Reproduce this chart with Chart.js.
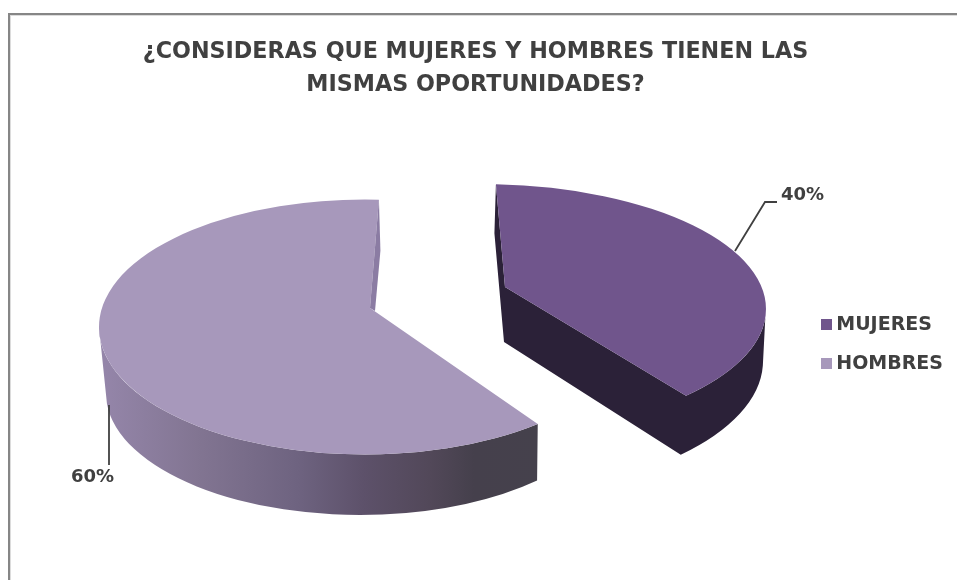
<!DOCTYPE html>
<html><head><meta charset="utf-8">
<style>html,body{margin:0;padding:0;background:#fff;overflow:hidden}canvas{display:block}</style>
<script src="https://cdn.jsdelivr.net/npm/chart.js@4"></script>
</head><body><canvas id="c" width="957" height="580"></canvas>
<script>
const categories = ['MUJERES', 'HOMBRES'];
const percentValues = [40, 60];
const titleLines = ['¿CONSIDERAS QUE MUJERES Y HOMBRES TIENEN LAS', 'MISMAS OPORTUNIDADES?'];
const sliceColors = ['#70558c', '#a798bb'];
const FONT = '"DejaVu Sans"';
const TEXT = '#404040';
const rad = d => d * Math.PI / 180;

// Perspective view of each exploded slice: top and bottom rims as ellipses.
// Library arc angles are mapped on to rim angles by an offset and a foreshortening factor.
const views = [
  { top: [481, 309, 285, 125], bottom: [470, 361, 293, 135], apex: [505, 287], startRim: -87, rimScale: 131 / 144,
    label: [781, 195], leader: [[735, 251], [765, 202], [777, 202]] },
  { top: [365, 327, 266, 127.5], bottom: [360, 393, 254, 122], apex: [370, 308], startRim: 49.5, rimScale: 223.5 / 216,
    label: [71, 477], leader: [[109, 405], [109, 465]] }
];

function rim(e, deg) {
  return [e[0] + e[2] * Math.cos(rad(deg)), e[1] + e[3] * Math.sin(rad(deg))];
}
function sweep(ctx, e, from, to, ccw) {
  ctx.ellipse(e[0], e[1], e[2], e[3], 0, rad(from), rad(to), ccw);
}
function rimAngles(el, v) {
  const span = (el.endAngle - el.startAngle) * 180 / Math.PI;
  return [v.startRim, v.startRim + span * v.rimScale];
}

const pie3d = {
  id: 'pie3d',
  beforeDatasetDraw(chart) {
    const ctx = chart.ctx;
    const els = chart.getDatasetMeta(0).data;

    // HOMBRES
    {
      const v = views[1], [a, b] = rimAngles(els[1], v);
      const g = ctx.createLinearGradient(100, 0, 540, 0);
      [[0, '#9586aa'], [.22, '#827592'], [.45, '#6e6380'], [.6, '#5d516a'], [.75, '#524859'], [.85, '#45404c'], [1, '#45414c']]
        .forEach(s => g.addColorStop(s[0], s[1]));
      ctx.fillStyle = g;
      ctx.beginPath();
      sweep(ctx, v.top, a, 180, false);
      sweep(ctx, v.bottom, 175, a - 3.7, true);
      ctx.closePath();
      ctx.fill();

      ctx.fillStyle = sliceColors[1];
      ctx.beginPath();
      ctx.moveTo(v.apex[0], v.apex[1]);
      sweep(ctx, v.top, a, b, false);
      ctx.closePath();
      ctx.fill();

      const s = rim(v.top, b);
      ctx.fillStyle = '#8b7ca3';
      ctx.beginPath();
      ctx.moveTo(s[0], s[1]);
      ctx.lineTo(s[0] + 1.5, s[1] + 51);
      ctx.lineTo(v.apex[0] + 5, v.apex[1] + 3);
      ctx.lineTo(v.apex[0], v.apex[1]);
      ctx.closePath();
      ctx.fill();
    }

    // MUJERES
    {
      const v = views[0], [a, b] = rimAngles(els[0], v);
      const s = rim(v.top, a);
      ctx.fillStyle = '#2b2138';
      ctx.beginPath();
      ctx.moveTo(s[0], s[1]);
      ctx.lineTo(s[0] - 1.5, s[1] + 49);
      ctx.lineTo(v.apex[0] - 1, v.apex[1] + 55);
      sweep(ctx, v.bottom, b, 2, true);
      sweep(ctx, v.top, 4, b, false);
      ctx.lineTo(v.apex[0], v.apex[1]);
      ctx.closePath();
      ctx.fill();

      ctx.fillStyle = sliceColors[0];
      ctx.beginPath();
      ctx.moveTo(v.apex[0], v.apex[1]);
      sweep(ctx, v.top, a, b, false);
      ctx.closePath();
      ctx.fill();
    }

    // leaders and percentage labels
    ctx.strokeStyle = TEXT;
    ctx.lineWidth = 1.8;
    ctx.fillStyle = TEXT;
    ctx.font = 'bold 18px ' + FONT;
    ctx.textBaseline = 'middle';
    ctx.textAlign = 'left';
    views.forEach((v, i) => {
      ctx.beginPath();
      v.leader.forEach((p, k) => k ? ctx.lineTo(p[0], p[1]) : ctx.moveTo(p[0], p[1]));
      ctx.stroke();
      ctx.fillText(percentValues[i] + '%', v.label[0], v.label[1]);
    });
    return false;
  }
};

const frame = {
  id: 'frame',
  beforeDraw(chart) {
    const ctx = chart.ctx;
    ctx.save();
    ctx.fillStyle = '#dcdcdc';
    ctx.fillRect(10, 15, 947, 1);
    ctx.fillRect(10, 15, 1, 565);
    ctx.fillStyle = '#868686';
    ctx.fillRect(8, 13, 949, 2);
    ctx.fillRect(8, 13, 2, 567);
    ctx.restore();
  }
};

function legendSwatch(color) {
  const s = document.createElement('canvas');
  s.width = 11; s.height = 11;
  const c = s.getContext('2d');
  c.fillStyle = color;
  c.fillRect(0, 0, 11, 11);
  return s;
}

new Chart(document.getElementById('c'), {
  type: 'pie',
  data: { labels: categories, datasets: [{ data: percentValues, backgroundColor: sliceColors, borderWidth: 0 }] },
  plugins: [frame, pie3d],
  options: {
    responsive: false,
    animation: false,
    layout: { padding: { top: 36, right: 4, left: -2, bottom: 0 } },
    plugins: {
      tooltip: { enabled: false },
      title: {
        display: true,
        text: titleLines,
        color: TEXT,
        font: { family: FONT, weight: 'bold', size: 22.25, lineHeight: 1.483 },
        padding: { top: 0, bottom: 7 }
      },
      legend: {
        position: 'right',
        fullSize: false,
        labels: {
          color: TEXT,
          font: { family: FONT, weight: 'bold', size: 19 },
          usePointStyle: true,
          pointStyleWidth: 1,
          boxHeight: 11,
          padding: 20,
          generateLabels(chart) {
            return Chart.overrides.pie.plugins.legend.labels.generateLabels(chart).map((it, i) =>
              Object.assign(it, { pointStyle: legendSwatch(sliceColors[i]) }));
          }
        }
      }
    }
  }
});
</script></body></html>
